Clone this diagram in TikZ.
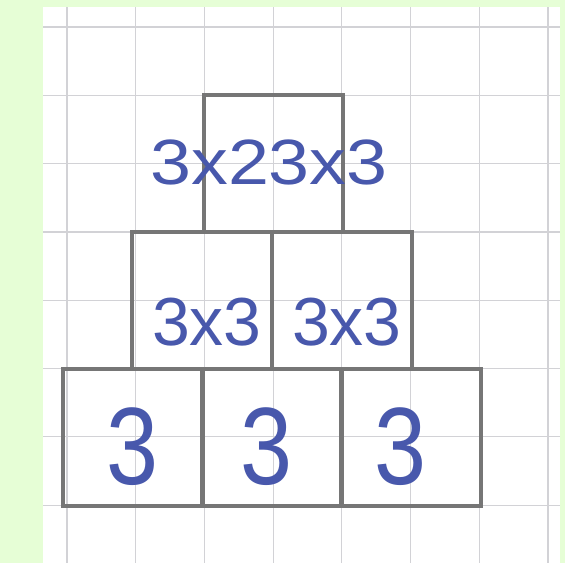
\documentclass[tikz,border=0pt]{standalone}
\usepackage{fontspec}
\setmainfont{Liberation Sans}
\definecolor{bgc}{RGB}{230,254,214}
\definecolor{gridc}{RGB}{210,210,214}
\definecolor{pencil}{RGB}{118,118,118}
\definecolor{ink}{RGB}{72,88,172}
\begin{document}
\begin{tikzpicture}[x=1pt,y=-1pt,
  cellbox/.style={draw=pencil,line width=4pt,rectangle,inner sep=0pt,
    minimum width=139.5pt,minimum height=137pt},
  toplabel/.style={text=ink,inner sep=0pt,font=\fontsize{64}{64}\selectfont},
  midlabel/.style={text=ink,inner sep=0pt,font=\fontsize{68}{68}\selectfont},
  botlabel/.style={text=ink,inner sep=0pt,font=\fontsize{110}{110}\selectfont}]
\useasboundingbox (0,0) rectangle (565,563);
\fill[bgc] (0,0) rectangle (565,563);
\fill[white] (43,7) rectangle (560,563);
% grid
\foreach \k in {0,...,7} {
  \draw[gridc,line width=1.2pt] ({67+68.7*\k},7) -- ({67+68.7*\k},563);
  \draw[gridc,line width=1.2pt] (43,{27+68.3*\k}) -- (560,{27+68.3*\k});
}
% boxes
\node[cellbox] (top) at (273.5,163) {};
\node[cellbox] (ml) at (202,300) {};
\node[cellbox] (mr) at (342,300) {};
\node[cellbox] (bl) at (133,437.5) {};
\node[cellbox] (bm) at (272,437.5) {};
\node[cellbox] (br) at (411,437.5) {};
% labels
\node[toplabel] (ttop) at (269,162) {\scalebox{1.15}[1]{3x23x3}};
\node[midlabel] (tml) at (207,322) {3x3};
\node[midlabel] (tmr) at (347,322) {3x3};
\node[botlabel] (tbl) at (132,447) {\scalebox{0.85}[1]{3}};
\node[botlabel] (tbm) at (266,447) {\scalebox{0.85}[1]{3}};
\node[botlabel] (tbr) at (400,447) {\scalebox{0.85}[1]{3}};
\end{tikzpicture}
\end{document}
